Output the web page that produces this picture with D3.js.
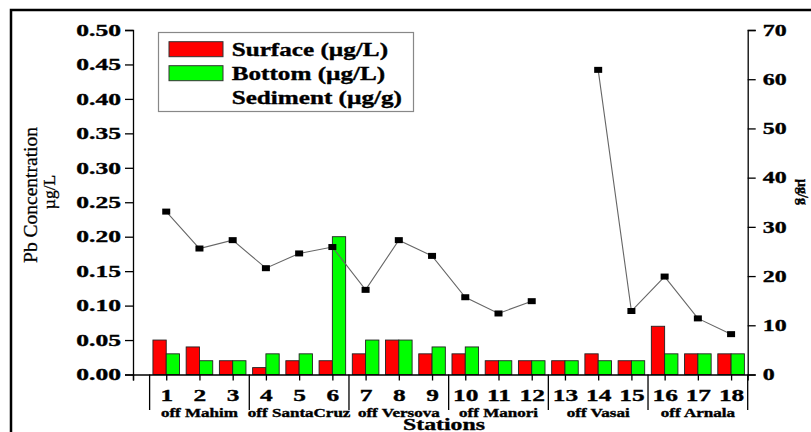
<!DOCTYPE html>
<html>
<head>
<meta charset="utf-8">
<script src="https://cdn.jsdelivr.net/npm/d3@7/dist/d3.min.js"></script>
<style>
  html, body { margin: 0; padding: 0; background: #fff; }
  svg { display: block; }
  text { font-family: "Liberation Serif", "Times New Roman", serif; fill: #000; }
  text.heavy { stroke: #000; stroke-width: 0.35px; }
</style>
</head>
<body>
<svg id="chart" width="811" height="432"></svg>
<script>
// Pb concentration per sampling station
const stations = ["1","2","3","4","5","6","7","8","9","10","11","12","13","14","15","16","17","18"];
const surface  = [0.05,0.04,0.02,0.01,0.02,0.02,0.03,0.05,0.03,0.03,0.02,0.02,0.02,0.03,0.02,0.07,0.03,0.03];
const bottom   = [0.03,0.02,0.02,0.03,0.03,0.20,0.05,0.05,0.04,0.04,0.02,0.02,0.02,0.02,0.02,0.03,0.03,0.03];
const sediment = [33.1,25.6,27.3,21.6,24.6,25.9,17.2,27.3,24.1,15.7,12.4,14.9,null,61.9,12.9,19.9,11.4,8.2];
const groups = ["off Mahim","off SantaCruz","off Versova","off Manori","off Vasai","off Arnala"];
const groupCentre = [2,5,8,11,14,17];
const groupBreaks = [0.5,3.5,6.5,9.5,12.5,15.5,18.5];
const leftTicks = [0,0.05,0.10,0.15,0.20,0.25,0.30,0.35,0.40,0.45,0.50];
const rightTicks = [0,10,20,30,40,50,60,70];
const legendItems = [
  {label:"Surface (\u00b5g/L)", color:"#ff0000"},
  {label:"Bottom (\u00b5g/L)", color:"#00ff00"},
  {label:"Sediment (\u00b5g/g)", color:null}
];

const SX = 1.45;   // horizontal stretch of the lettering
const FONT = "Liberation Serif, Times New Roman, serif";
const svg = d3.select("#chart");

const x  = d3.scaleLinear().domain([0, 18.5]).range([133, 747.7]);
const yL = d3.scaleLinear().domain([0, 0.5]).range([374.5, 30]);
const yR = d3.scaleLinear().domain([0, 70]).range([374.5, 30]);
const barW = x(0.4) - x(0);

// outer frame
svg.append("rect").attr("x", 11).attr("y", 10).attr("width", 900).attr("height", 500)
  .attr("fill", "none").attr("stroke", "#000").attr("stroke-width", 2.5);

function stext(parent, tx, ty, str, size, opts = {}) {
  const g = parent.append("g")
    .attr("transform", `translate(${tx},${ty}) rotate(${opts.rotate || 0}) scale(${opts.sx || SX},1)`);
  return g.append("text").attr("text-anchor", opts.anchor || "start")
    .attr("class", opts.weight === "normal" ? null : "heavy")
    .attr("font-size", size).attr("font-weight", opts.weight || "bold").text(str);
}

// bars
const plot = svg.append("g");
plot.selectAll("rect.surface").data(surface).join("rect")
  .attr("x", (d, i) => x(i + 1) - barW).attr("y", d => yL(d))
  .attr("width", barW).attr("height", d => yL(0) - yL(d))
  .attr("fill", "#ff0000").attr("stroke", "#222").attr("stroke-width", 0.9);
plot.selectAll("rect.bottom").data(bottom).join("rect")
  .attr("x", (d, i) => x(i + 1)).attr("y", d => yL(d))
  .attr("width", barW).attr("height", d => yL(0) - yL(d))
  .attr("fill", "#00ff00").attr("stroke", "#222").attr("stroke-width", 0.9);

// sediment line (no sample at station 13)
const sedPts = sediment.map((v, i) => ({s: i + 1, v}));
plot.append("path").datum(sedPts)
  .attr("d", d3.line().defined(d => d.v != null).x(d => x(d.s)).y(d => yR(d.v)))
  .attr("fill", "none").attr("stroke", "#666").attr("stroke-width", 1.1);
plot.selectAll("rect.sed").data(sedPts.filter(d => d.v != null)).join("rect")
  .attr("x", d => x(d.s) - 4).attr("y", d => yR(d.v) - 3)
  .attr("width", 8).attr("height", 6).attr("fill", "#000");

function styleAxis(g) {
  g.selectAll("path.domain").attr("stroke", "#000").attr("stroke-width", 1.3);
  g.selectAll("line").attr("stroke", "#000").attr("stroke-width", 1.3);
  g.selectAll("text").attr("font-weight", "bold").attr("font-family", FONT).attr("class", "heavy");
}

// left axis
const gL = svg.append("g").attr("transform", `translate(${x(0)},0)`);
gL.call(d3.axisLeft(yL).tickValues(d3.range(0, 0.5001, 0.025)).tickSize(4).tickFormat(""));
gL.call(d3.axisLeft(yL).tickValues(leftTicks).tickSize(8).tickFormat(d3.format(".2f")));
styleAxis(gL);
gL.selectAll("text").attr("font-size", 16.5)
  .attr("x", -12 / 1.55).attr("transform", "scale(1.55,1)");

// right axis
const gR = svg.append("g").attr("transform", `translate(${x(18.5)},0)`);
gR.call(d3.axisRight(yR).tickValues(d3.range(0, 71, 5)).tickSize(4).tickFormat(""));
gR.call(d3.axisRight(yR).tickValues(rightTicks).tickSize(8).tickFormat(d3.format("d")));
styleAxis(gR);
gR.selectAll("text").attr("font-size", 16.5)
  .attr("x", 15 / SX).attr("transform", `scale(${SX},1)`);

// bottom axis
const gB = svg.append("g").attr("transform", `translate(0,${yL(0)})`);
gB.call(d3.axisBottom(x).tickValues(d3.range(0.5, 18.6, 1)).tickSize(3).tickFormat(""));
gB.call(d3.axisBottom(x).tickValues(d3.range(0, 19, 1)).tickSize(6)
  .tickFormat(d => d === 0 ? "" : stations[d - 1]));
styleAxis(gB);
gB.selectAll("text").attr("font-size", 17.5)
  .attr("y", 27).attr("dy", 0).attr("transform", "scale(1.45,1)");

// station group separators and names
svg.selectAll("line.sep").data(groupBreaks).join("line")
  .attr("x1", d => x(d)).attr("x2", d => x(d))
  .attr("y1", yL(0)).attr("y2", 410)
  .attr("stroke", "#000").attr("stroke-width", 1.3);
groups.forEach((g, i) => stext(svg, x(groupCentre[i]), 417, g, 12, {anchor: "middle", sx: 1.42}));

// axis titles
stext(svg, 444, 430, "Stations", 17, {anchor: "middle", sx: 1.4});
stext(svg, 37, 195, "Pb Concentration", 19.5, {anchor: "middle", rotate: -90, sx: 1, weight: "normal"})
  .attr("stroke", "#000").attr("stroke-width", 0.3);
stext(svg, 55, 192, "\u00b5g/L", 17.5, {anchor: "middle", rotate: -90, sx: 1, weight: "normal"})
  .attr("stroke", "#000").attr("stroke-width", 0.3);
stext(svg, 798, 192, "\u00b5g/g", 14, {anchor: "middle", rotate: 90, sx: 1});

// legend
const lg = svg.append("g");
lg.append("rect").attr("x", 158.5).attr("y", 32.5).attr("width", 255).attr("height", 79)
  .attr("fill", "#fff").attr("stroke", "#888").attr("stroke-width", 1.2);
legendItems.forEach((d, i) => {
  const yy = 41.7 + i * 24;
  if (d.color) {
    lg.append("rect").attr("x", 169).attr("y", yy).attr("width", 54).attr("height", 15)
      .attr("fill", d.color).attr("stroke", "#333").attr("stroke-width", 1);
  }
  stext(lg, 231.7, yy + 14, d.label, 18.5, {sx: 1.36});
});
</script>
</body>
</html>
